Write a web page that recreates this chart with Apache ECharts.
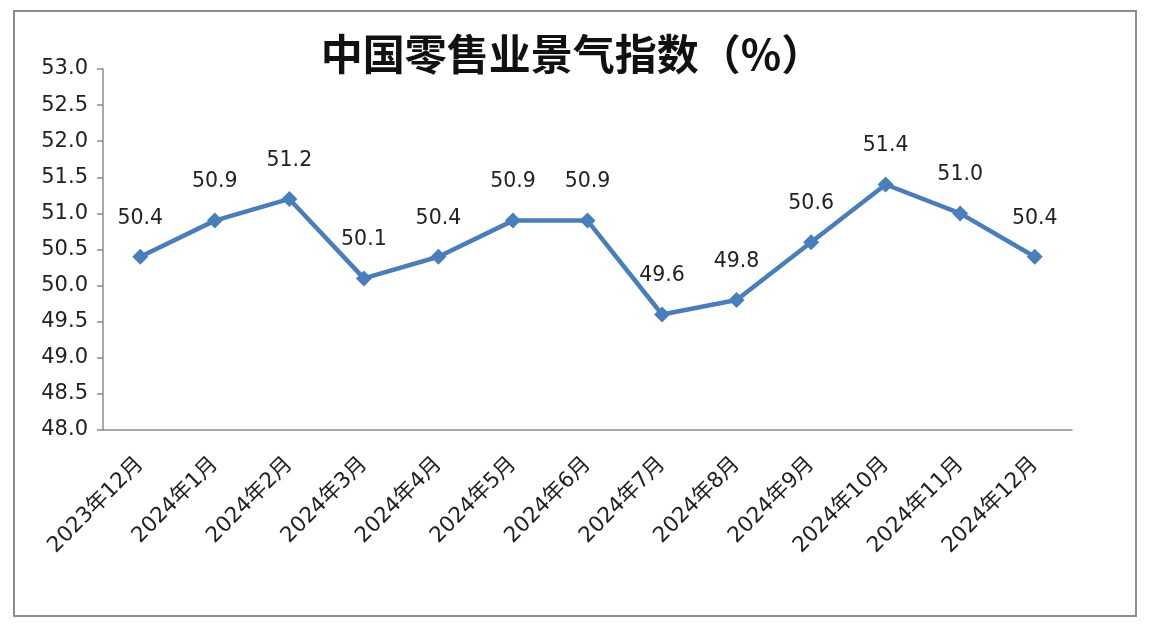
<!DOCTYPE html>
<html><head><meta charset="utf-8">
<script src="https://cdn.jsdelivr.net/npm/echarts@6/dist/echarts.min.js"></script>
<style>html,body{margin:0;padding:0;background:#fff;}#c{width:1153px;height:631px;}
#frame{position:absolute;left:13px;top:10px;width:1124px;height:607px;border:2px solid #8c8c8c;box-sizing:border-box;pointer-events:none;}</style>
</head><body><div id="c"></div><div id="frame"></div>
<script>
const categories = ['2023年12月','2024年1月','2024年2月','2024年3月','2024年4月','2024年5月','2024年6月','2024年7月','2024年8月','2024年9月','2024年10月','2024年11月','2024年12月'];
const values = [50.4, 50.9, 51.2, 50.1, 50.4, 50.9, 50.9, 49.6, 49.8, 50.6, 51.4, 51.0, 50.4];
const titleText = '中国零售业景气指数（%）';
const chart = echarts.init(document.getElementById('c'));
chart.setOption({
  animation: false,
  title: { text: titleText, left: 567, top: 28, textAlign: 'center',
    textStyle: { fontSize: 42, fontWeight: 'bold', color: '#111', fontFamily: 'Noto Sans CJK SC' } },
  grid: { left: 103, right: 81, top: 69, bottom: 201 },
  xAxis: { type: 'category', data: categories, boundaryGap: true,
    axisLine: { lineStyle: { color: '#8c8c8c', width: 1.5 } },
    axisTick: { length: 6, lineStyle: { color: '#8c8c8c', width: 1.5 } },
    axisLabel: { rotate: 45, interval: 0, fontSize: 21.5, color: '#222', margin: 31, fontFamily: 'DejaVu Sans, Noto Sans CJK SC' } },
  yAxis: { type: 'value', min: 48, max: 53, interval: 0.5,
    axisLine: { show: true, lineStyle: { color: '#8c8c8c', width: 1.5 } },
    axisTick: { show: true, length: 6, lineStyle: { color: '#8c8c8c', width: 1.5 } },
    splitLine: { show: false },
    axisLabel: { formatter: v => v.toFixed(1), fontSize: 21, color: '#222', margin: 15, fontFamily: 'DejaVu Sans' } },
  series: [{ type: 'line', data: values, symbol: 'diamond', symbolSize: 16,
    lineStyle: { color: '#4a7ebb', width: 4.5 }, itemStyle: { color: '#4a7ebb' },
    label: { show: true, position: 'top', distance: 20, fontSize: 20.5, color: '#222', fontFamily: 'DejaVu Sans', formatter: p => p.value.toFixed(1) } }]
});
</script></body></html>
